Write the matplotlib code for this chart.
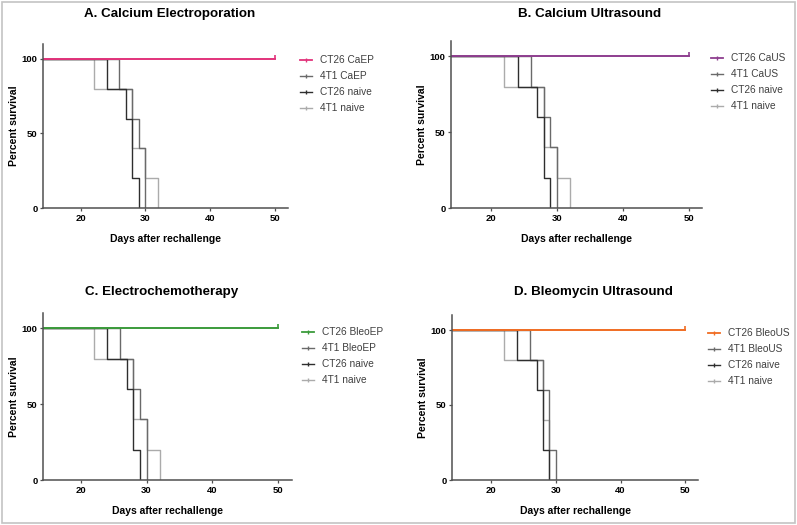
import matplotlib
matplotlib.use("Agg")
import matplotlib.pyplot as plt
from matplotlib.lines import Line2D
from matplotlib.patches import Rectangle

plt.rcParams['font.family'] = ['Liberation Sans', 'DejaVu Sans']

# event days (where='post' steps) and percent survival, 5 mice per group
titles = ["A. Calcium Electroporation", "B. Calcium Ultrasound",
          "C. Electrochemotherapy", "D. Bleomycin Ultrasound"]
treated_names = ["CT26 CaEP", "CT26 CaUS", "CT26 BleoEP", "CT26 BleoUS"]
treated_4t1_names = ["4T1 CaEP", "4T1 CaUS", "4T1 BleoEP", "4T1 BleoUS"]
treated_colors = ["#e2337b", "#8e3e8f", "#3b9b3b", "#f06c22"]

treated_days = [0, 50]
treated_surv = [100, 100]

t4t1_days_abc = [0, 26, 28, 29, 30]
t4t1_surv_abc = [100, 80, 60, 40, 0]
t4t1_days_d = [0, 26, 28, 29, 30]
t4t1_surv_d = [100, 80, 60, 20, 0]

ct26_naive_days = [0, 24, 27, 28, 29]
ct26_naive_surv = [100, 80, 60, 20, 0]

naive4t1_days_abc = [0, 22, 28, 30, 32]
naive4t1_surv_abc = [100, 80, 40, 20, 0]
naive4t1_days_d = [0, 22, 28, 29]
naive4t1_surv_d = [100, 80, 40, 0]

W, H = 797, 525
fig = plt.figure(figsize=(W / 100, H / 100), dpi=100)
fig.patches.append(Rectangle((0.002, 0.004), 0.996, 0.992, transform=fig.transFigure,
                             fill=False, edgecolor="#c4c4c4", linewidth=1.2))

# axes boxes in pixels: left, right, top, bottom
boxes = [(43, 288, 44, 208), (451, 702, 41, 208),
         (43, 292, 313, 480), (452, 698, 315, 480)]
xlims = [(14.2, 52), (13.9, 52), (14.2, 52.2), (13.9, 52)]
title_x = [170, 590, 162, 593]
title_y = [14, 14, 292, 292]
legend_xy = [(296, 51), (454 + 253, 49), (298, 323), (704, 324)]

grey_mid = "#6a6a6a"
grey_dark = "#2e2e2e"
grey_light = "#ababab"

for i in range(4):
    l, r, t, b = boxes[i]
    ax = fig.add_axes([l / W, 1 - b / H, (r - l) / W, (b - t) / H])
    if i == 3:
        d4, s4 = t4t1_days_d, t4t1_surv_d
        dn, sn = naive4t1_days_d, naive4t1_surv_d
    else:
        d4, s4 = t4t1_days_abc, t4t1_surv_abc
        dn, sn = naive4t1_days_abc, naive4t1_surv_abc
    ax.step(dn, sn, where='post', color=grey_light, lw=1.0)
    ax.step(d4, s4, where='post', color=grey_mid, lw=1.0)
    ax.step(ct26_naive_days, ct26_naive_surv, where='post', color=grey_dark, lw=1.0)
    ax.step(treated_days, treated_surv, where='post', color=treated_colors[i], lw=1.4)
    ax.plot([treated_days[-1]], [treated_surv[-1] + 1.5], marker='|', ms=3,
            color=treated_colors[i], mew=1.2)

    ax.set_xlim(*xlims[i])
    ax.set_ylim(0, 110)
    ax.set_xticks([20, 30, 40, 50])
    ax.set_yticks([0, 50, 100])
    for s in ['top', 'right']:
        ax.spines[s].set_visible(False)
    for s in ['left', 'bottom']:
        ax.spines[s].set_color("#505050")
        ax.spines[s].set_linewidth(1.1)
    ax.tick_params(labelsize=6.8, length=2.5, width=0.9, color="#505050", pad=1.5)
    for lab in ax.get_xticklabels() + ax.get_yticklabels():
        lab.set_fontweight('bold')
    ax.set_xlabel("Days after rechallenge", fontsize=7.5, fontweight='bold', labelpad=8)
    ax.set_ylabel("Percent survival", fontsize=7.5, fontweight='bold')
    ax.yaxis.set_label_coords(-24 / (r - l), 0.5)

    fig.text(title_x[i] / W, 1 - title_y[i] / H, titles[i], fontsize=9.6,
             fontweight='bold', ha='center', va='center')

    handles = [Line2D([], [], color=treated_colors[i], lw=1.3, marker='|', ms=3),
               Line2D([], [], color=grey_mid, lw=1.0, marker='|', ms=3),
               Line2D([], [], color=grey_dark, lw=1.0, marker='|', ms=3),
               Line2D([], [], color=grey_light, lw=1.0, marker='|', ms=3)]
    labels = [treated_names[i], treated_4t1_names[i], "CT26 naive", "4T1 naive"]
    lx, ly = legend_xy[i]
    leg = fig.legend(handles, labels, loc='upper left',
                     bbox_to_anchor=(lx / W, 1 - ly / H), frameon=False,
                     fontsize=7.3, handlelength=1.2, handletextpad=0.8,
                     labelspacing=0.6, borderaxespad=0)
    for txt in leg.get_texts():
        txt.set_color("#404040")

fig.savefig("out.png", dpi=100)
